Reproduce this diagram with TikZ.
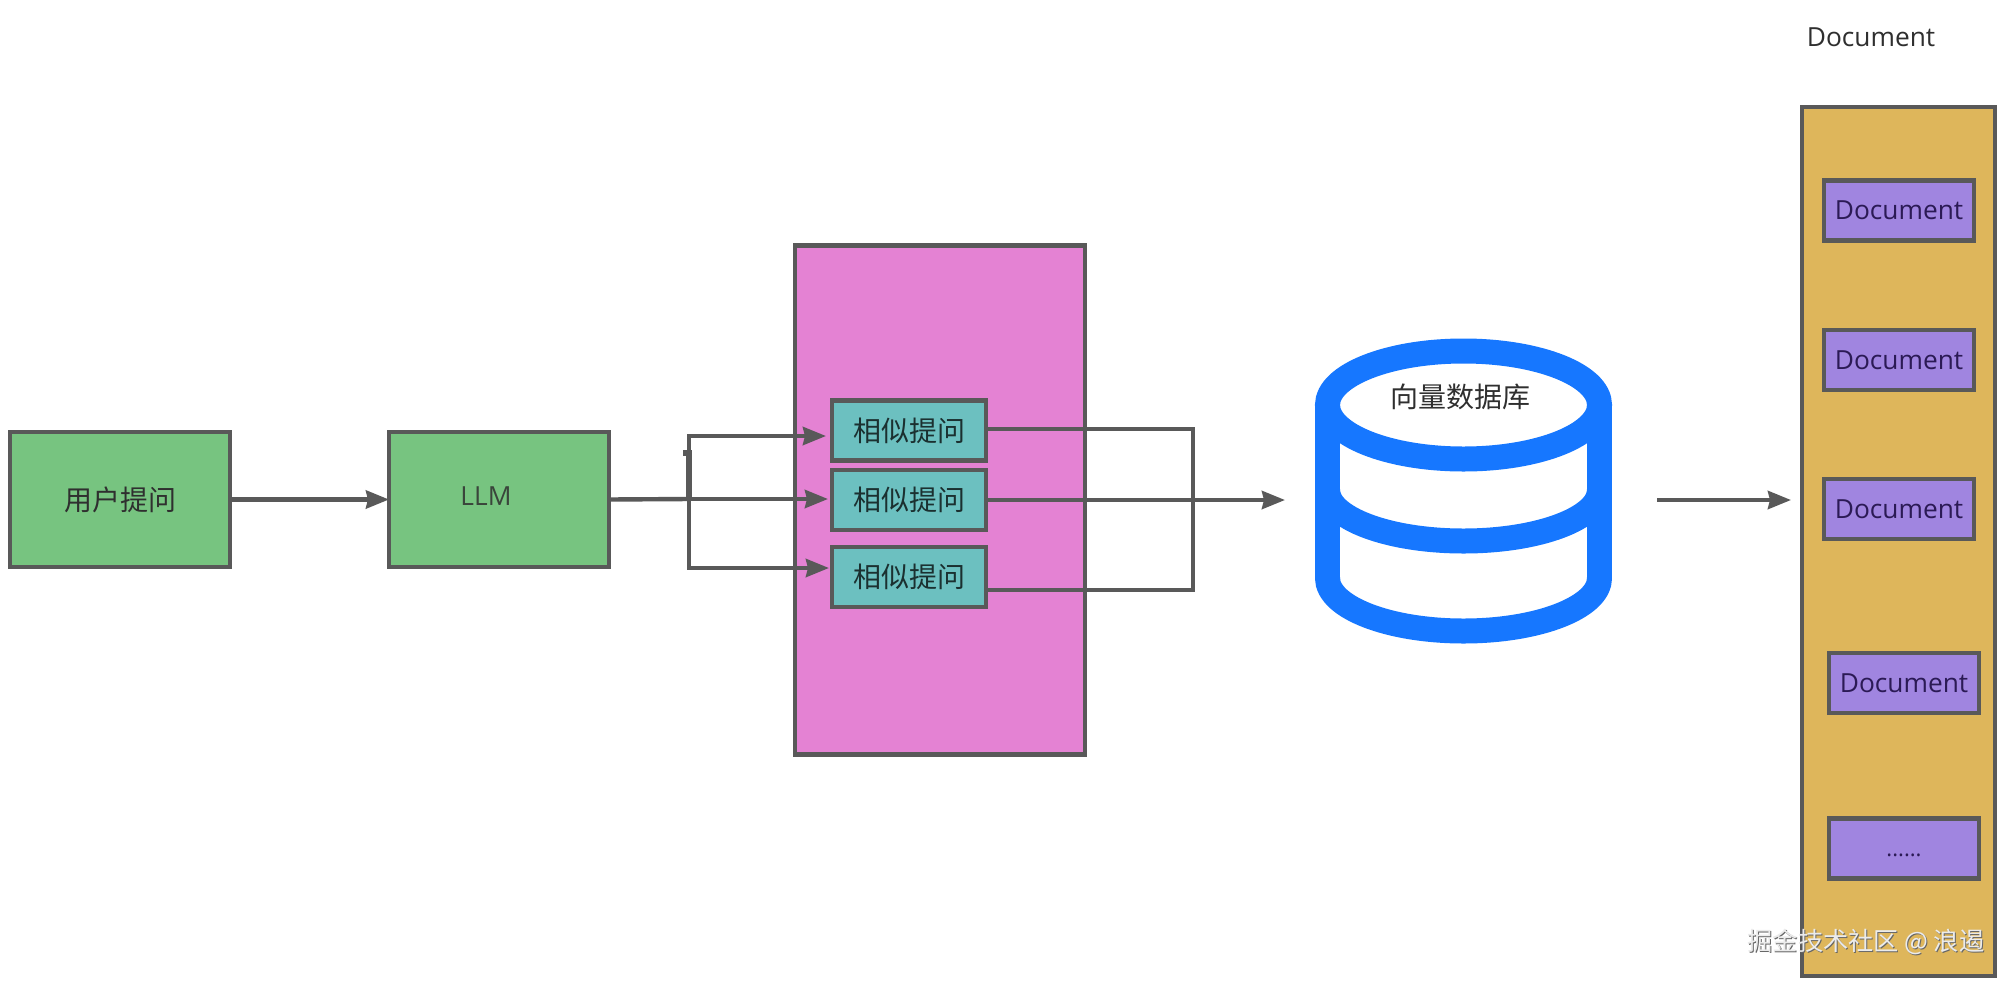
\documentclass[tikz,border=0pt]{standalone}
\usepackage{fontspec}
\setmainfont{Open Sans}
\newfontfamily\cjk{Noto Sans CJK SC}
\usetikzlibrary{arrows.meta,calc}
\definecolor{edgegray}{HTML}{595959}
\definecolor{greenfill}{HTML}{77C480}
\definecolor{pinkfill}{HTML}{E482D3}
\definecolor{tealfill}{HTML}{6CC0C0}
\definecolor{purplefill}{HTML}{A085E0}
\definecolor{goldfill}{HTML}{DEB65B}
\definecolor{dbblue}{HTML}{1677FF}
\definecolor{txtdark}{HTML}{2F2F2F}
\definecolor{txtpurple}{HTML}{2B1A55}
\tikzset{
  box/.style={draw=edgegray,line width=4.5pt,inner sep=0pt,outer sep=0pt,text=txtdark},
  greenbox/.style={box,fill=greenfill,minimum width=220pt,minimum height=135pt},
  tealbox/.style={box,fill=tealfill,minimum width=154pt,minimum height=60pt,text=black!75!tealfill},
  docbox/.style={box,fill=purplefill,minimum width=150pt,minimum height=60pt,text=txtpurple},
  conn/.style={draw=edgegray,line width=4.4pt},
  arr/.style={conn,-{Stealth[length=23pt,width=18pt,inset=2pt]}},
  cjktext/.style={font=\fontsize{28}{32}\selectfont\cjk},
  lattext/.style={font=\fontsize{26.3}{30}\selectfont},
  wmtext/.style={font=\fontsize{25.2}{30}\selectfont\cjk},
  dbstroke/.style={draw=dbblue,line width=25pt,line cap=butt},
}
\begin{document}
\begin{tikzpicture}[x=1pt,y=-1pt]
\useasboundingbox (0,0) rectangle (2010,983);
\fill[white] (0,0) rectangle (2010,983);

% outer containers
\node[box,fill=pinkfill,minimum width=290pt,minimum height=509pt] (pink) at (940,500) {};
\node[box,fill=goldfill,minimum width=193pt,minimum height=869pt] (gold) at (1898.5,541.5) {};

% main boxes
\node[greenbox,cjktext] (user) at (120,499.5) {用户提问};
\node[greenbox] (llm) at (499,499.5) {};
\node[lattext,text=txtdark!85!greenfill] (llmlabel) at (486,496) {LLM};

% similar question boxes
\node[tealbox,cjktext] (t1) at (909,430.5) {相似提问};
\node[tealbox,cjktext] (t2) at (909,500) {相似提问};
\node[tealbox,cjktext] (t3) at (909,577) {相似提问};

% document boxes
\node[lattext,text=txtdark] (doctitle) at (1871,37) {Document};
\node[docbox,lattext] (d1) at (1899,210.5) {Document};
\node[docbox,lattext] (d2) at (1899,360) {Document};
\node[docbox,lattext] (d3) at (1899,509) {Document};
\node[docbox,lattext] (d4) at (1904,683) {Document};
\node[docbox,font=\fontsize{22}{26}\selectfont,text height=16pt,text depth=0pt] (d5) at (1904,848.5) {......};

% database icon
\draw[dbstroke] (1463.5,405) ellipse [x radius=136, y radius=54];
\draw[dbstroke] (1327.5,405) -- (1327.5,580);
\draw[dbstroke] (1599.5,405) -- (1599.5,580);
\draw[dbstroke] (1327.5,490) arc [start angle=180,end angle=0,x radius=136,y radius=51];
\draw[dbstroke] (1327.5,578) arc [start angle=180,end angle=0,x radius=136,y radius=53];
\node[cjktext,text=txtdark] (dblabel) at (1460,397) {向量数据库};

% connector anchors
\coordinate (split) at (689,499);
\coordinate (tick) at (683,453);
\coordinate (in1) at (826,436);
\coordinate (in2) at (828,499);
\coordinate (in3) at (829,568);
\coordinate (r1) at (1193,429);
\coordinate (r3) at (1193,590);
\coordinate (dbin) at (1285,500);
\coordinate (dbout) at (1657,500);
\coordinate (docin) at (1791,500);

% connectors
\draw[arr] (user.east) -- (llm.west);
\draw[conn] (llm.east) -- (split);
\draw[arr] (split |- in1) -- (in1);
\draw[arr] (split |- in2) -- (in2);
\draw[arr] (split |- in3) -- (in3);
\draw[conn,line cap=rect] (split |- in1) -- (split |- in3);
\draw[conn,line width=5.5pt] (tick) -- (split |- tick) -- (split);
\draw[conn,line cap=rect] (r1 -| t1.east) -- (r1) -- (r3) -- (r3 -| t3.east);
\draw[arr] (t2.east) -- (dbin);
\draw[arr] (dbout) -- (docin);

% watermark
\node[wmtext,text=black!60] (wmshadow) at (1867,943) {掘金技术社区 @ 浪遏};
\node[wmtext,text=white!92!black] (wm) at (1866,942) {掘金技术社区 @ 浪遏};
\end{tikzpicture}
\end{document}
